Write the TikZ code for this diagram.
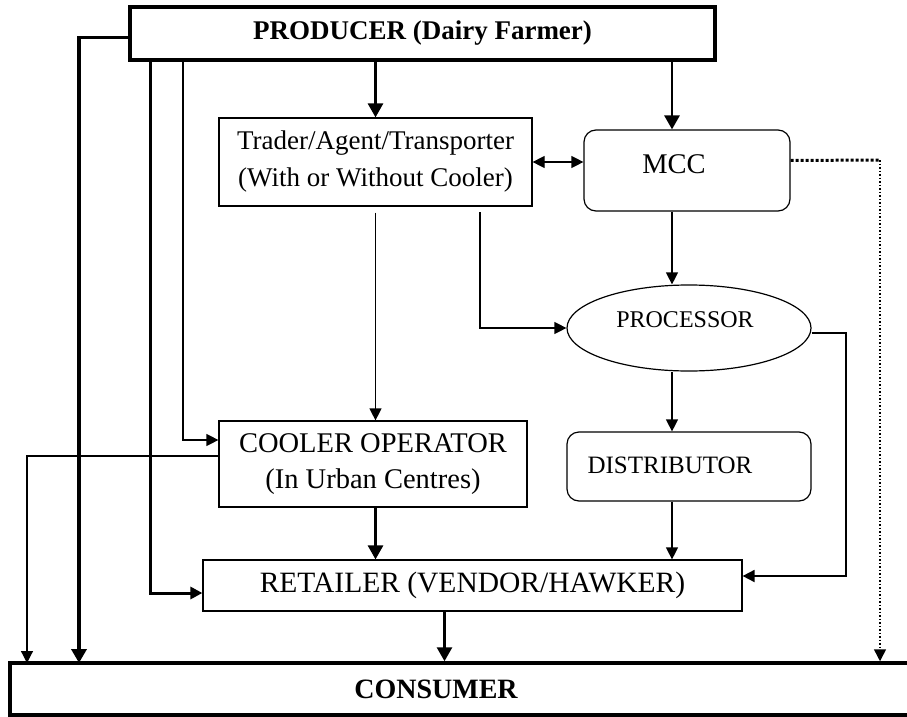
\documentclass[tikz,border=0pt]{standalone}
\usepackage{fontspec}
\setmainfont{Liberation Serif}
\usetikzlibrary{arrows.meta,shapes.geometric}

\begin{document}
\begin{tikzpicture}[x=1pt, y=-1pt,
                    line width=1.2pt,
                    >={Triangle[length=12pt,width=12pt]},
                    ]
    \tikzstyle{box}=[draw, rectangle, inner sep=2pt, align=center, font=\fontsize{26}{31}\selectfont]
    \tikzstyle{bigbox}=[box, line width=3.5pt, font=\fontsize{27}{31}\selectfont\bfseries]
    \tikzstyle{roundbox}=[box, rounded corners=12pt]
    \tikzstyle{plain}=[line width=1.2pt, ->]
    \tikzstyle{heavy}=[line width=2.8pt, -{Triangle[length=14pt,width=15pt]}]
    \tikzstyle{heavier}=[line width=3.8pt, -{Triangle[length=14pt,width=15pt]}]

    \useasboundingbox (0,0) rectangle (907,717);

    \node[bigbox, minimum width=585pt, minimum height=53pt] (prod) at (422.5,33.5) {PRODUCER (Dairy Farmer)};
    \node[box, minimum width=313pt, minimum height=88pt, font=\fontsize{27}{37}\selectfont] (trader) at (375.5,162)
        {Trader/Agent/Transporter\\(With or Without Cooler)};
    \node[roundbox, minimum width=206pt, minimum height=81pt] (mcc) at (687,170.5) {};
    \node[font=\fontsize{28.5}{31}\selectfont] (mcctext) at (674,164) {MCC};
    \node[draw, ellipse, minimum width=244pt, minimum height=86pt, inner sep=0pt] (proc) at (689,328) {};
    \node[font=\fontsize{24}{28}\selectfont] (proctext) at (685,320) {PROCESSOR};
    \node[box, minimum width=308pt, minimum height=86pt, font=\fontsize{28.5}{36}\selectfont] (cooler) at (373,464)
        {COOLER OPERATOR\\(In Urban Centres)};
    \node[roundbox, minimum width=244pt, minimum height=69pt] (dist) at (689,466.5) {};
    \node[font=\fontsize{25}{30}\selectfont] (disttext) at (670,465) {DISTRIBUTOR};
    \node[box, minimum width=539pt, minimum height=51pt, font=\fontsize{29.5}{33}\selectfont] (ret) at (472.5,585.5) {RETAILER (VENDOR/HAWKER)};
    \node[bigbox, minimum width=905pt, minimum height=52pt] (cons) at (462.5,689) {};
    \node[font=\fontsize{28}{33}\selectfont\bfseries] (constext) at (436,689) {CONSUMER};

    % fixed columns
    \coordinate (col) at (672,0);
    \coordinate (tp) at (480,206);
    \coordinate (dotc) at (880,160);
    \coordinate (pr) at (846,576);

    \draw[heavy] (prod.south -| trader.south) -- (trader.north);
    \draw[heavy] (prod.south -| col) -- (mcc.north -| col);
    \draw[plain, <->] (trader.east) -- (trader.east -| mcc.west);
    \draw[line width=3pt, dotted] ([yshift=10pt]mcc.east) -- (dotc);
    \draw[line width=1.5pt, dotted, ->] (dotc) -- (cons.north -| dotc);
    \draw[plain, shorten <=6pt] (trader.south) -- (cooler.north -| trader.south);
    \draw[plain, shorten <=6pt] (tp) |- (proc.west);
    \draw[plain] (mcc.south -| col) -- (proc.north -| col);
    \draw[plain] (proc.south -| col) -- (dist.north -| col);
    \draw[line width=1.8pt, ->] ([yshift=-5pt]proc.east) -| (pr) -- (pr -| ret.east);
    \draw[plain] (dist.south -| col) -- (ret.north -| col);
    \draw[heavy] (cooler.south -| trader.south) -- (ret.north -| trader.south);
    \draw[heavy] ([xshift=-28pt]ret.south) -- ([xshift=-28pt]ret.south |- cons.north);

    % left hand side
    \draw[heavier] ([yshift=-4pt]prod.west) -| (79,663);
    \draw[line width=3pt, ->] (150,60) |- (ret.west |- 0,593);
    \draw[plain] (183,60) |- (cooler.west |- 0,440);
    \draw[plain] ([yshift=8pt]cooler.west) -| (27,663);
\end{tikzpicture}
\end{document}
